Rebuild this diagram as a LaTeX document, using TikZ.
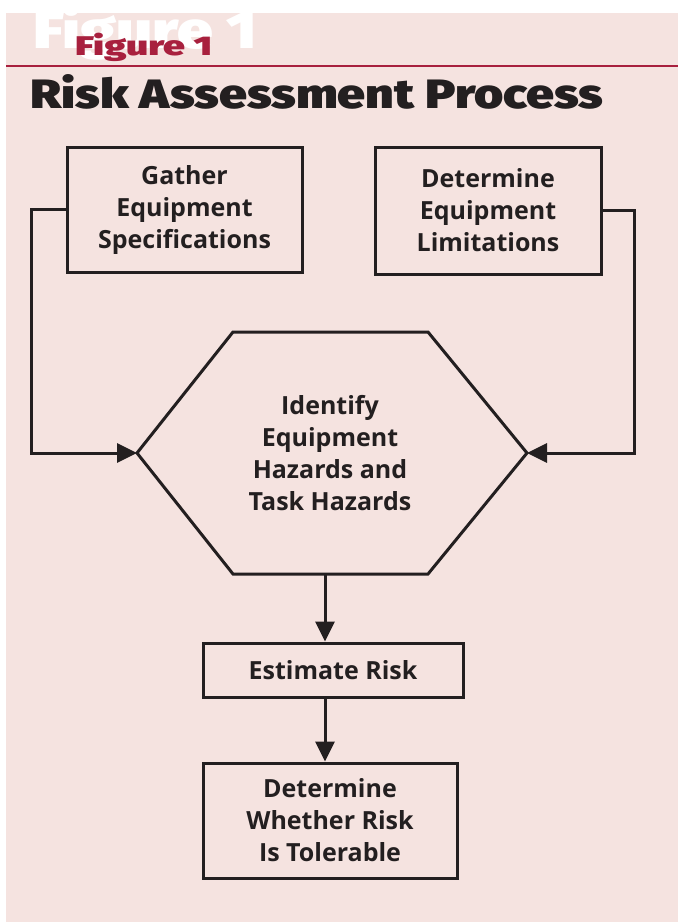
\documentclass[tikz,border=0pt]{standalone}
\usepackage{fontspec}
\setmainfont{Open Sans}
\newfontfamily\heavyfont{Fira Sans Black}
\usetikzlibrary{arrows.meta,positioning}
\definecolor{panel}{HTML}{F5E3E0}
\definecolor{figred}{HTML}{A8203E}
\definecolor{ink}{HTML}{231F20}

\begin{document}
\begin{tikzpicture}
[x=1pt,y=-1pt,
 box/.style={rectangle,draw=ink,line width=3pt,inner sep=0pt,align=center,text=ink,
   font=\bfseries\fontsize{25}{32}\selectfont},
 link/.style={draw=ink,line width=3pt,-{Triangle[length=20pt,width=19pt]}}]
\useasboundingbox (0,0) rectangle (678,922);
\fill[panel] (6,13) rectangle (678,922);
\node[anchor=base west,inner sep=0pt,text=white,font=\heavyfont\fontsize{52}{52}\selectfont] (bigfig) at (33,48) {\scalebox{1.23}[1]{Figure 1}};
\node[anchor=base west,inner sep=0pt,text=figred,font=\heavyfont\fontsize{27}{27}\selectfont] (figlabel) at (75,55) {\scalebox{1.45}[1]{Figure 1}};
\draw[figred,line width=2.5pt] (6,66) -- (678,66);
\node[anchor=base west,inner sep=0pt,text=ink,font=\heavyfont\fontsize{41}{41}\selectfont] (title) at (30,108) {\scalebox{1.22}[1]{Risk Assessment Process}};
\node[box,minimum width=235pt,minimum height=125pt] (gather) at (184.5,209.5) {Gather\\Equipment\\Specifications};
\node[box,minimum width=226pt,minimum height=127pt] (limits) at (488,210.5) {Determine\\Equipment\\Limitations};
\coordinate (hexW) at (137,453);
\coordinate (hexE) at (527,453);
\coordinate (hexS) at (325,574);
\draw[ink,line width=3pt,line join=miter] (233,332) -- (428,332) -- (hexE) -- (428,574) -- (233,574) -- (hexW) -- cycle;
\node[align=center,text=ink,inner sep=0pt,font=\bfseries\fontsize{25}{32}\selectfont] (hazards) at (330,453) {Identify\\Equipment\\Hazards and\\Task Hazards};
\node[box,minimum width=260pt,minimum height=54pt] (estimate) at (333,670) {Estimate Risk};
\node[box,minimum width=254pt,minimum height=115pt] (tolerable) at (330,820.5) {Determine\\Whether Risk\\Is Tolerable};
\draw[link] (gather.west) -- ++(-34,0) |- (hexW);
\draw[link] (limits.east) -- ++(32,0) |- (hexE);
\draw[link] (hexS) -- (estimate.north -| hexS);
\draw[link] (estimate.south -| hexS) -- (tolerable.north -| hexS);
\end{tikzpicture}
\end{document}
